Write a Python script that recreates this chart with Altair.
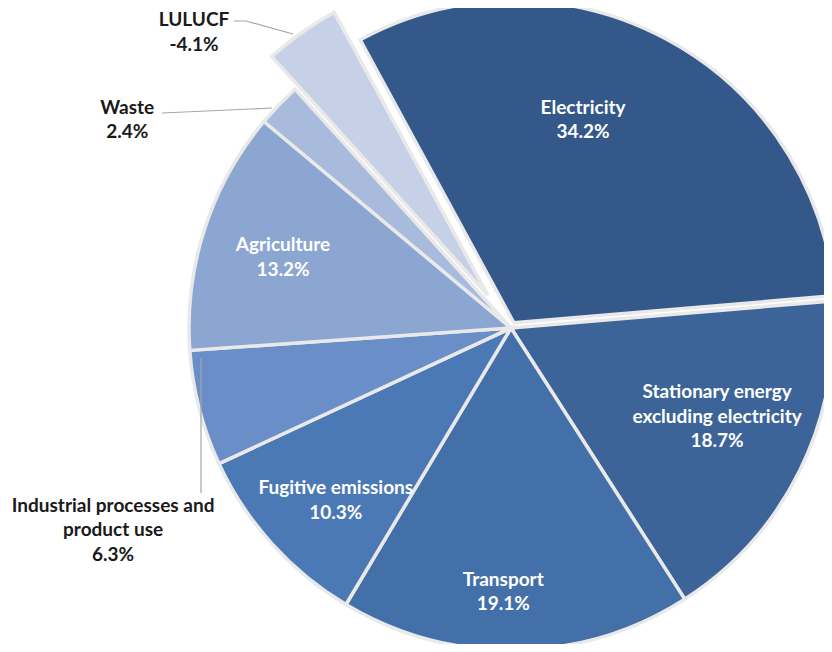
import altair as alt
import pandas as pd
import numpy as np

# ---- data ----
categories = ["Electricity", "Stationary energy excluding electricity", "Transport",
              "Fugitive emissions", "Industrial processes and product use",
              "Agriculture", "Waste", "LULUCF"]
values = [34.2, 18.7, 19.1, 10.3, 6.3, 13.2, 2.4, -4.1]
name_lines = [["Electricity"], ["Stationary energy", "excluding electricity"], ["Transport"],
              ["Fugitive emissions"], ["Industrial processes and", "product use"],
              ["Agriculture"], ["Waste"], ["LULUCF"]]

# ---- style / layout ----
colors = ["#35588a", "#3c6499", "#4470aa", "#4a79b5", "#6a8fc8", "#8ca6d2", "#a9bbdd", "#c6d1e7"]
explode = [6, 0, 0, 0, 0, 0, 0, 40]
inside = [True, True, True, True, False, True, False, False]
label_angle_offset = [-9.3, -3.2, 2.6, -2.3, -12.4, -0.5, -15.3, -11.6]   # degrees from slice bisector
label_radius = [221, 224, 263, 245, 446, 239, 437, 434]
CX, CY, R = 503, 320, 322
START_DEG = 331.5
FONT = "Lato"
FS = 19
LH = 24.5

sizes = np.abs(np.array(values, dtype=float))
ang = sizes / sizes.sum() * 2 * np.pi
start = np.deg2rad(START_DEG) + np.concatenate([[0], np.cumsum(ang)[:-1]])
end = start + ang
mid = (start + end) / 2

slices = pd.DataFrame({
    "category": categories,
    "t0": start, "t1": end,
    "cx": CX + np.array(explode) * np.sin(mid),
    "cy": CY - np.array(explode) * np.cos(mid),
})

texts = [nl + [f"{v:.1f}%"] for nl, v in zip(name_lines, values)]
lt = mid + np.deg2rad(label_angle_offset)
nlines = np.array([len(t) for t in texts])
labels = pd.DataFrame({
    "category": categories,
    "text": texts,
    "tx": CX + np.array(label_radius) * np.sin(lt),
    "ty": CY + 1 - np.array(label_radius) * np.cos(lt) - (nlines - 1) * LH / 2,
    "inside": inside,
})

# leader lines (chart pixel coordinates)
leaders = pd.DataFrame({
    "id": ["LULUCF"] * 3 + ["Waste"] * 2 + ["Industrial"] * 2,
    "ord": [0, 1, 2, 0, 1, 0, 1],
    "lx": [226, 238, 285, 154, 264, 193, 193],
    "ly": [13, 13, 26, 105, 100, 350, 485],
})

arcs = alt.Chart(slices).mark_arc(outerRadius=R, stroke="#e9e9e9", strokeWidth=3.5).encode(
    theta=alt.Theta("t0:Q", scale=None),
    theta2="t1:Q",
    x=alt.X("cx:Q", scale=None, axis=None),
    y=alt.Y("cy:Q", scale=None, axis=None),
    color=alt.Color("category:N", scale=alt.Scale(domain=categories, range=colors), legend=None),
)

lines = alt.Chart(leaders).mark_line(color="#a6a6a6", strokeWidth=1.2).encode(
    x=alt.X("lx:Q", scale=None, axis=None),
    y=alt.Y("ly:Q", scale=None, axis=None),
    detail="id:N",
    order="ord:Q",
)

def text_layer(flt, col):
    return alt.Chart(labels).transform_filter(flt).mark_text(
        font=FONT, fontSize=FS, fontWeight="bold", color=col, lineHeight=LH,
        align="center", baseline="middle",
    ).encode(
        x=alt.X("tx:Q", scale=None, axis=None),
        y=alt.Y("ty:Q", scale=None, axis=None),
        text="text",
    )

text_in = text_layer("datum.inside", "white")
text_out = text_layer("!datum.inside", "#1a1a1a")

chart = alt.layer(arcs, lines, text_in, text_out).properties(
    width=816, height=636, autosize=alt.AutoSizeParams(type="none"), padding=0,
    background="white",
).configure_view(stroke=None)

chart.save("out.html", embed_options={"renderer": "svg", "actions": False})
